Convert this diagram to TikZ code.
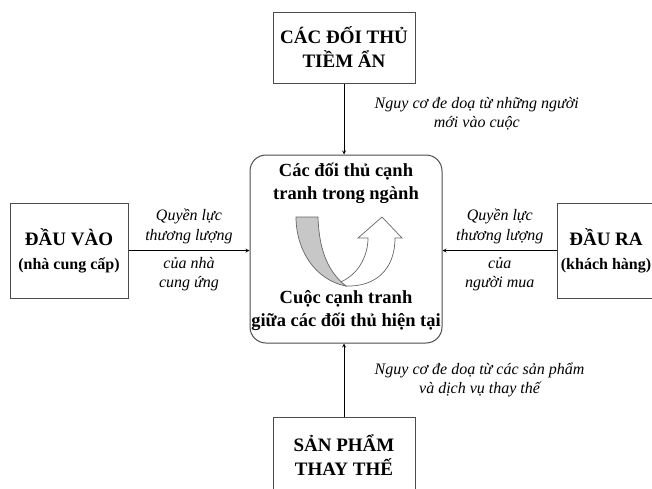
\documentclass[tikz,border=0pt]{standalone}
\usepackage{fontspec}
\setmainfont{Liberation Serif}
\usetikzlibrary{positioning}

\begin{document}
\begin{tikzpicture}[%
    x=1pt, y=-1pt,
    >=stealth,
    line width=0.8pt,
    force/.style={draw=black!70, line width=1pt, align=center,
      font=\fontsize{19}{24}\selectfont\bfseries},
    core/.style={align=center, font=\fontsize{18.5}{23}\selectfont\bfseries},
    power/.style={align=center, font=\fontsize{16}{19.5}\selectfont\itshape},
  ]
    \useasboundingbox (0,0) rectangle (652,488);

    \node[force, minimum width=142pt, minimum height=71pt] (entrant) at (344,47.5) {CÁC ĐỐI THỦ\\TIỀM ẨN};
    \node[force, minimum width=118pt, minimum height=95pt] (supplier) at (69,250.5) {ĐẦU VÀO\\{\fontsize{16}{20}\selectfont(nhà cung cấp)}};
    \node[force, minimum width=94pt, minimum height=95pt] (buyer) at (606,250.5) {ĐẦU RA\\{\fontsize{16}{20}\selectfont(khách hàng)}};
    \node[force, minimum width=142pt, minimum height=76pt] (substitute) at (344,455) {SẢN PHẨM\\THAY THẾ};

    \node[draw=black!70, line width=1pt, rounded corners=16pt,
      minimum width=192pt, minimum height=188pt] (industry) at (346,249) {};
    \node[core] (rivals) at (346,183) {Các đối thủ cạnh\\tranh trong ngành};
    \node[core] (rivalry) at (346,311) {Cuộc cạnh tranh\\giữa các đối thủ hiện tại};

    % u-turn arrow
    \filldraw[fill=white, draw=black!60, line width=0.7pt]
      (338,283) .. controls (358,276) and (368,256) .. (368,238)
      -- (358,238) -- (382,217) -- (402,238) -- (395,238)
      .. controls (395,270) and (375,287) .. (346,286) -- cycle;
    \filldraw[fill=black!22, draw=black!60, line width=0.7pt]
      (296,217) -- (318,217)
      .. controls (319,250) and (328,272) .. (346,286)
      .. controls (315,280) and (296,250) .. cycle;

    \path[->]
    (entrant.south) edge (entrant.south |- industry.north)
    (supplier.east) edge node[power, above=3pt] {Quyền lực\\thương lượng}
                         node[power, below=3pt] {của nhà\\cung ứng} (supplier.east -| industry.west)
    (buyer.west) edge node[power, above=3pt] {Quyền lực\\thương lượng}
                      node[power, below=3pt] {của\\người mua} (buyer.west -| industry.east)
    (substitute.north) edge (substitute.north |- industry.south)
    ;

    \node[power, anchor=west] (newthreat) at (371,114) {Nguy cơ đe doạ từ những người\\mới vào cuộc};
    \node[power, anchor=west] (subthreat) at (371,380) {Nguy cơ đe doạ từ các sản phẩm\\và dịch vụ thay thế};
  \end{tikzpicture}
\end{document}
